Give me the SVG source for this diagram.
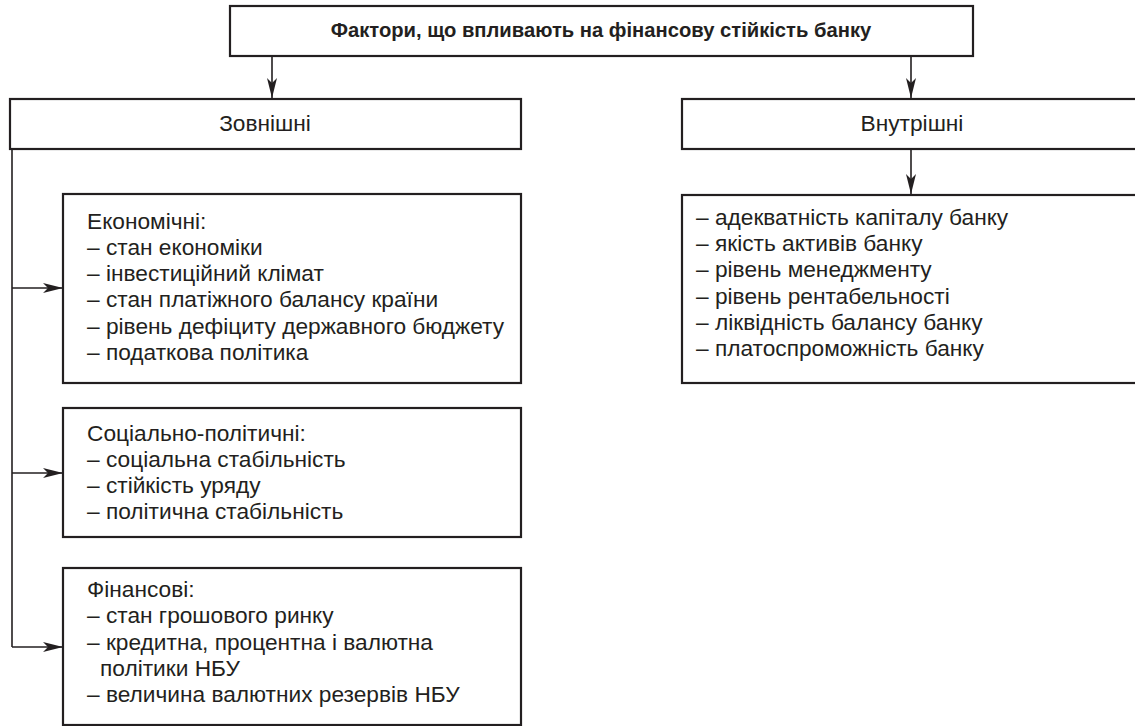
<svg xmlns="http://www.w3.org/2000/svg" width="1135" height="726" viewBox="0 0 1135 726">
<style>
.box{fill:#fff;stroke:#231f20;stroke-width:2.2}
.t{font-family:"Liberation Sans",Arial,sans-serif;font-size:22.7px;fill:#231f20}
.b{font-family:"Liberation Sans",Arial,sans-serif;font-size:20.2px;font-weight:bold;fill:#231f20}
.c{text-anchor:middle}
.ln{fill:none;stroke:#231f20;stroke-width:1.6}
</style>
<defs>
<marker id="ah" viewBox="0 0 20 10" refX="20" refY="5" markerWidth="20" markerHeight="10" markerUnits="userSpaceOnUse" orient="auto">
<path d="M0,0 L20,5 L0,10 L5,5 z" fill="#231f20"/>
</marker>
</defs>
<rect width="1135" height="726" fill="#fff"/>
<g id="connectors">
<line class="ln" x1="272" y1="56" x2="272" y2="98" marker-end="url(#ah)"/>
<line class="ln" x1="911" y1="56" x2="911" y2="98" marker-end="url(#ah)"/>
<line class="ln" x1="911" y1="149" x2="911" y2="194" marker-end="url(#ah)"/>
<polyline class="ln" points="12,149 12,647"/>
<line class="ln" x1="12" y1="288" x2="63" y2="288" marker-end="url(#ah)"/>
<line class="ln" x1="12" y1="473" x2="63" y2="473" marker-end="url(#ah)"/>
<line class="ln" x1="12" y1="647" x2="63" y2="647" marker-end="url(#ah)"/>
</g>
<g id="root">
<rect class="box" x="230" y="6" width="743" height="50"/>
<text class="b c" x="601" y="37">Фактори, що впливають на фінансову стійкість банку</text>
</g>
<g id="external">
<rect class="box" x="10" y="99" width="511" height="50"/>
<text class="t c" x="265" y="131">Зовнішні</text>
</g>
<g id="internal">
<rect class="box" x="682" y="99" width="460" height="50"/>
<text class="t c" x="912" y="131">Внутрішні</text>
</g>
<g id="economic">
<rect class="box" x="63" y="194" width="458" height="189"/>
<text class="t" x="87" y="229">Економічні:</text>
<text class="t" x="87" y="255">– стан економіки</text>
<text class="t" x="87" y="281">– інвестиційний клімат</text>
<text class="t" x="87" y="307">– стан платіжного балансу країни</text>
<text class="t" x="87" y="334">– рівень дефіциту державного бюджету</text>
<text class="t" x="87" y="360">– податкова політика</text>
</g>
<g id="social">
<rect class="box" x="63" y="408" width="458" height="129"/>
<text class="t" x="87" y="441">Соціально-політичні:</text>
<text class="t" x="87" y="467">– соціальна стабільність</text>
<text class="t" x="87" y="493">– стійкість уряду</text>
<text class="t" x="87" y="519">– політична стабільність</text>
</g>
<g id="financial">
<rect class="box" x="63" y="568" width="458" height="157"/>
<text class="t" x="87" y="597">Фінансові:</text>
<text class="t" x="87" y="623">– стан грошового ринку</text>
<text class="t" x="87" y="650">– кредитна, процентна і валютна</text>
<text class="t" x="100" y="676">політики НБУ</text>
<text class="t" x="87" y="702">– величина валютних резервів НБУ</text>
</g>
<g id="internal-list">
<rect class="box" x="682" y="195" width="460" height="188"/>
<text class="t" x="696" y="225">– адекватність капіталу банку</text>
<text class="t" x="696" y="251">– якість активів банку</text>
<text class="t" x="696" y="277">– рівень менеджменту</text>
<text class="t" x="696" y="304">– рівень рентабельності</text>
<text class="t" x="696" y="330">– ліквідність балансу банку</text>
<text class="t" x="696" y="356">– платоспроможність банку</text>
</g>
</svg>
